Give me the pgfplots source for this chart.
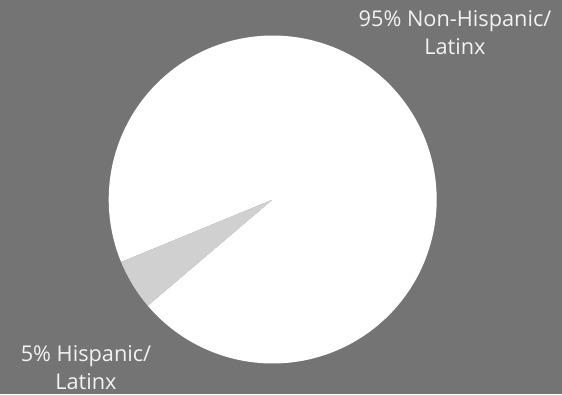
\documentclass[border=0pt]{standalone}
\usepackage{fontspec}
\setmainfont{Open Sans}
\usepackage{pgfplots}
\pgfplotsset{compat=1.18}
\definecolor{bgcol}{RGB}{116,116,116}
\definecolor{slicegray}{RGB}{208,208,208}
\definecolor{txtcol}{RGB}{242,242,242}
\begin{document}
\begin{tikzpicture}
\useasboundingbox (0,0) rectangle (421.5pt,295.5pt);
\fill[bgcol] (0,0) rectangle (421.5pt,295.5pt);
% data: share of each group (percent)
\pgfmathsetmacro{\pHisp}{5}
\pgfmathsetmacro{\pNon}{95}
\pgfmathsetmacro{\aStart}{202.4}
\pgfmathsetmacro{\aMid}{\aStart+3.6*\pHisp}
\pgfmathsetmacro{\aEnd}{\aMid+3.6*\pNon}
\begin{axis}[
  at={(0,0)}, anchor=south west,
  scale only axis, width=421.5pt, height=295.5pt,
  xmin=0, xmax=562, ymin=0, ymax=394,
  axis lines=none, ticks=none, clip=false,
]
\addplot[fill=white, draw=none, domain=\aMid:\aEnd, samples=200, variable=\t]
  ({272.7+164*cos(\t)},{194.5+164*sin(\t)}) -- (axis cs:272.7,194.5) -- cycle;
\addplot[fill=slicegray, draw=none, domain=\aStart:\aMid, samples=30, variable=\t]
  ({272.7+164*cos(\t)},{194.5+164*sin(\t)}) -- (axis cs:272.7,194.5) -- cycle;
\node[align=center, text=txtcol, font=\fontsize{16.3}{20.5}\selectfont, inner sep=0pt]
  at (axis cs:455,361.5) {95\% Non-Hispanic/\\Latinx};
\node[align=center, text=txtcol, font=\fontsize{16.3}{20.5}\selectfont, inner sep=0pt]
  at (axis cs:86,26.5) {5\% Hispanic/\\Latinx};
\end{axis}
\end{tikzpicture}
\end{document}
